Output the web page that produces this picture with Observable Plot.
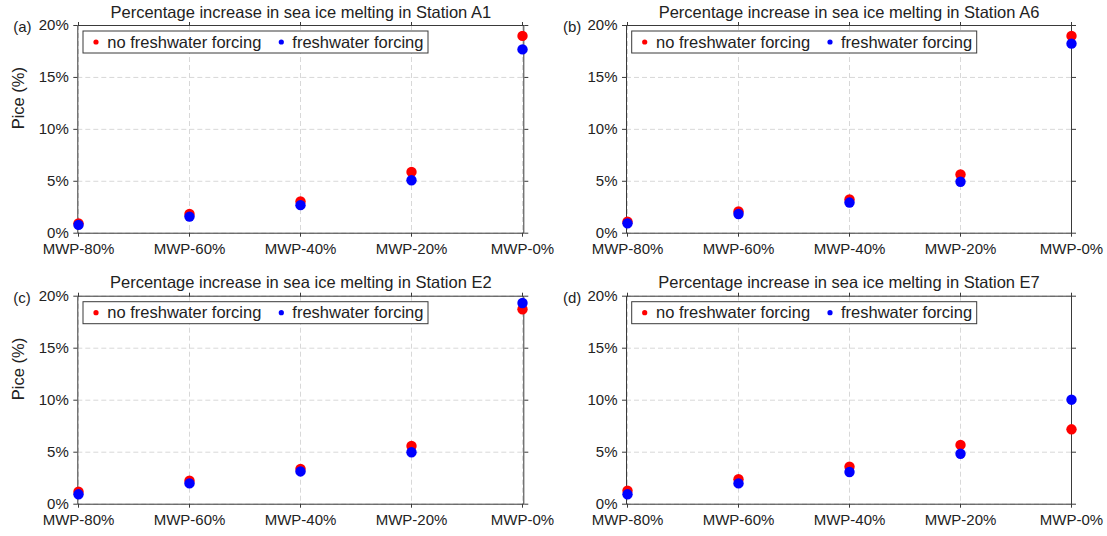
<!DOCTYPE html>
<html>
<head>
<meta charset="utf-8">
<script src="https://cdn.jsdelivr.net/npm/d3@7"></script>
<script src="https://cdn.jsdelivr.net/npm/@observablehq/plot@0.6"></script>
<style>
  body { margin: 0; background: #fff; }
  #wrap { position: relative; width: 1107px; height: 536px; font-family: "Liberation Sans", Arial, sans-serif; }
  .panel { position: absolute; }
  .panel svg { overflow: visible; }
</style>
</head>
<body>
<div id="wrap"></div>
<script>
// ---- data ----
const categories = ["MWP-80%", "MWP-60%", "MWP-40%", "MWP-20%", "MWP-0%"];
const yTicks = [0, 5, 10, 15, 20];
const seriesNames = ["no freshwater forcing", "freshwater forcing"];
const seriesColors = ["#ff0000", "#0000ff"];
const stations = ["A1", "A6", "E2", "E7"];
const panelLabels = ["(a)", "(b)", "(c)", "(d)"];

const noFw_A1 = [0.95, 1.85, 3.05, 5.9, 19.0];
const fw_A1   = [0.8, 1.6, 2.7, 5.1, 17.7];
const noFw_A6 = [1.1, 2.1, 3.25, 5.65, 19.0];
const fw_A6   = [0.95, 1.85, 2.95, 4.95, 18.25];
const noFw_E2 = [1.2, 2.25, 3.4, 5.6, 18.75];
const fw_E2   = [0.95, 2.0, 3.15, 5.0, 19.35];
const noFw_E7 = [1.3, 2.4, 3.6, 5.7, 7.2];
const fw_E7   = [0.95, 2.0, 3.1, 4.85, 10.05];

const seriesByStation = [
  [noFw_A1, fw_A1],
  [noFw_A6, fw_A6],
  [noFw_E2, fw_E2],
  [noFw_E7, fw_E7]
];

// ---- layout ----
const colLeft = [0, 553], colWidth = [553, 554];
const mL = [77.3, 73], mR = [29.7, 36];
const rowTop = [0, 268], rowHeight = 268;
const mT = [25, 27.7], mB = [35.3, 32.3];

const axisColor = "#3a3a3a";
const textColor = "#222";
const gridStyle = {stroke: "#d8d8d8", strokeOpacity: 1, strokeDasharray: "5,3", strokeWidth: 1};

function legendMark(index, scales, values, dims) {
  const g = d3.create("svg:g");
  const x0 = dims.marginLeft + 5.7, y0 = dims.marginTop + 6;
  g.append("rect")
    .attr("x", x0).attr("y", y0).attr("width", 345).attr("height", 22)
    .attr("fill", "white").attr("stroke", axisColor).attr("stroke-width", 1);
  const dotX = [13, 198.3], txtX = [24.3, 209.3];
  seriesNames.forEach((s, i) => {
    g.append("circle").attr("cx", x0 + dotX[i]).attr("cy", y0 + 11).attr("r", 2.6)
      .attr("fill", scales.color(s));
    g.append("text").attr("x", x0 + txtX[i]).attr("y", y0 + 11).attr("dy", "0.35em")
      .attr("text-anchor", "start")
      .attr("font-size", 16.5).attr("fill", textColor).text(s);
  });
  return g.node();
}

const wrap = document.getElementById("wrap");

stations.forEach((st, k) => {
  const col = k % 2, row = Math.floor(k / 2);
  const rows = [];
  seriesNames.forEach((s, si) => {
    seriesByStation[k][si].forEach((v, ci) => rows.push({cat: categories[ci], value: v, series: s}));
  });
  const marks = [
    Plot.gridY(yTicks, gridStyle),
    Plot.gridX(categories, gridStyle),
    Plot.frame({stroke: axisColor, strokeWidth: 1}),
    Plot.axisY(yTicks, {anchor: "left", tickSize: 4, tickPadding: 5, tickFormat: d => d + "%", fontSize: 15, stroke: axisColor, fill: textColor, label: null}),
    Plot.axisY(yTicks, {anchor: "right", tickSize: 4, tickFormat: () => "", stroke: axisColor, label: null}),
    Plot.axisX(categories, {anchor: "bottom", tickSize: 4, tickPadding: 6, fontSize: 15, stroke: axisColor, fill: textColor, label: null}),
    Plot.axisX(categories, {anchor: "top", tickSize: 4, tickFormat: () => "", stroke: axisColor, label: null}),
    Plot.dot(rows, {x: "cat", y: "value", fill: "series", r: 5.2}),
    Plot.text(["Percentage increase in sea ice melting in Station " + st], {frameAnchor: "top", dy: -13, lineAnchor: "middle", fontSize: 16.5, fill: textColor}),
    Plot.text([panelLabels[k]], {frameAnchor: "top-left", dx: col === 0 ? -64.6 : -63.5, dy: 1.5, textAnchor: "start", lineAnchor: "middle", fontSize: 15, fill: textColor}),
    legendMark
  ];
  if (col === 0) {
    marks.push(Plot.text(["Pice (%)"], {frameAnchor: "left", dx: -59.3, rotate: -90, lineAnchor: "middle", fontSize: 16.5, fill: textColor}));
  }
  const chart = Plot.plot({
    width: colWidth[col],
    height: rowHeight,
    marginLeft: mL[col], marginRight: mR[col],
    marginTop: mT[row], marginBottom: mB[row],
    style: {fontFamily: '"Liberation Sans", Arial, sans-serif', color: textColor, background: "transparent", overflow: "visible"},
    x: {type: "point", domain: categories, padding: 0},
    y: {domain: [0, 20]},
    color: {domain: seriesNames, range: seriesColors},
    marks
  });
  const div = document.createElement("div");
  div.className = "panel";
  div.style.left = colLeft[col] + "px";
  div.style.top = rowTop[row] + "px";
  div.appendChild(chart);
  wrap.appendChild(div);
});
</script>
</body>
</html>
